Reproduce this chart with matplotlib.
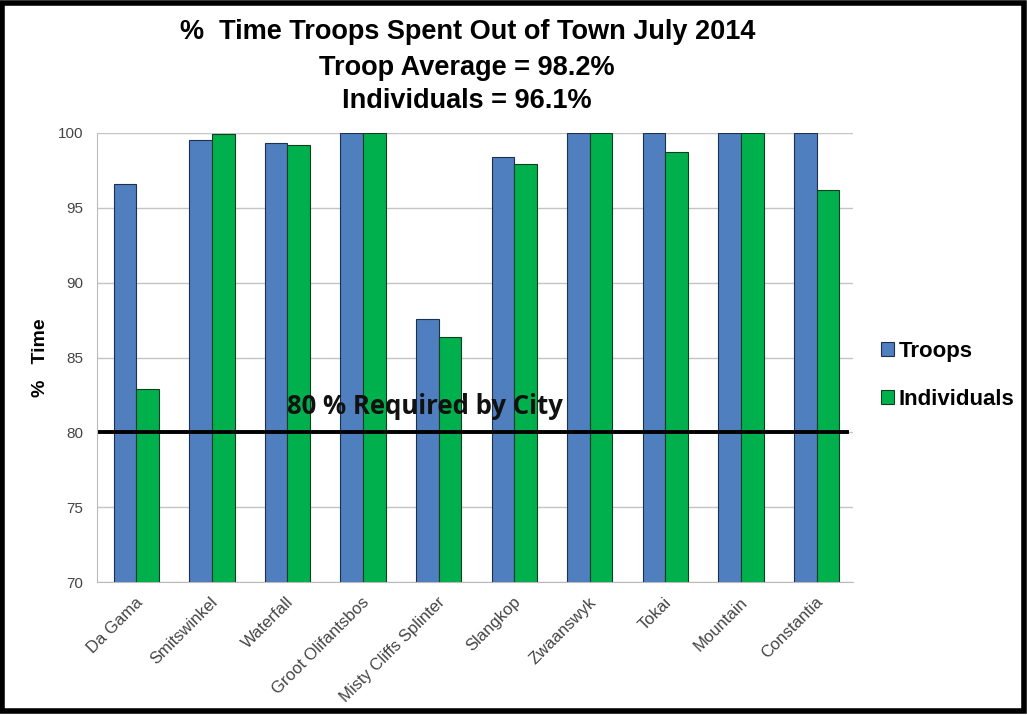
import matplotlib.pyplot as plt
import numpy as np
from matplotlib.patches import Rectangle

# data
troops_names = ["Da Gama", "Smitswinkel", "Waterfall", "Groot Olifantsbos",
                "Misty Cliffs Splinter", "Slangkop", "Zwaanswyk", "Tokai",
                "Mountain", "Constantia"]
troops = [96.6, 99.5, 99.3, 100.0, 87.6, 98.4, 100.0, 100.0, 100.0, 100.0]
individuals = [82.9, 99.9, 99.2, 100.0, 86.4, 97.9, 100.0, 98.7, 100.0, 96.2]
required = 80
y_ticks = [70, 75, 80, 85, 90, 95, 100]

plt.rcParams["font.family"] = ["Liberation Sans", "DejaVu Sans"]

fig = plt.figure(figsize=(10.27, 7.15), dpi=100)
ax = fig.add_axes([0.0944, 0.186, 0.736, 0.628])

x = np.arange(len(troops_names))
w = 0.30
ax.bar(x - w / 2 + 0.02, troops, w, color="#4F7FBF", edgecolor="#1F2F4F",
       linewidth=0.8, label="Troops", zorder=3)
ax.bar(x + w / 2 + 0.02, individuals, w, color="#00B04C", edgecolor="#0F3F1F",
       linewidth=0.8, label="Individuals", zorder=3)

# required line
ax.axhline(required, xmin=0.004, xmax=0.992, color="black", lw=2.8, zorder=4)
ax.text(3.84, 81.7, "80 % Required by City", fontsize=18.5, fontweight="bold",
        family=["Open Sans", "DejaVu Sans"], color="#111111", ha="center",
        va="center", zorder=5)

ax.set_ylim(70, 100)
ax.set_xlim(-0.5, len(troops_names) - 0.5)
ax.set_yticks(y_ticks)
ax.yaxis.grid(True, color="#C4C4C4", lw=1, zorder=0)
ax.set_xticks(x)
ax.set_xticklabels(troops_names, rotation=45, ha="right", rotation_mode="anchor",
                   fontsize=12, color="#444444")
ax.tick_params(axis="y", labelsize=11, labelcolor="#444444", length=0, pad=10)
ax.tick_params(axis="x", length=0, pad=9)
for s in ["top", "right"]:
    ax.spines[s].set_visible(False)
for s in ["left", "bottom"]:
    ax.spines[s].set_color("#BBBBBB")

ax.set_ylabel("%   Time", fontsize=14, fontweight="bold", labelpad=6)

fig.text(0.455, 0.955, "%  Time Troops Spent Out of Town July 2014",
         fontsize=19.5, fontweight="bold", ha="center", va="center")
fig.text(0.455, 0.905, "Troop Average = 98.2%",
         fontsize=19.5, fontweight="bold", ha="center", va="center")
fig.text(0.455, 0.859, "Individuals = 96.1%",
         fontsize=19.5, fontweight="bold", ha="center", va="center")

leg = fig.legend(loc="center left", bbox_to_anchor=(0.838, 0.475), frameon=False,
                 handlelength=0.6, handleheight=0.6, handletextpad=0.2,
                 labelspacing=1.2, prop={"size": 16, "weight": "bold"})

# outer black frame
fig.patches.append(Rectangle((0.002, 0.005), 0.995, 0.991, transform=fig.transFigure,
                             fill=False, edgecolor="black", lw=4))

fig.savefig("out.png", dpi=100)
